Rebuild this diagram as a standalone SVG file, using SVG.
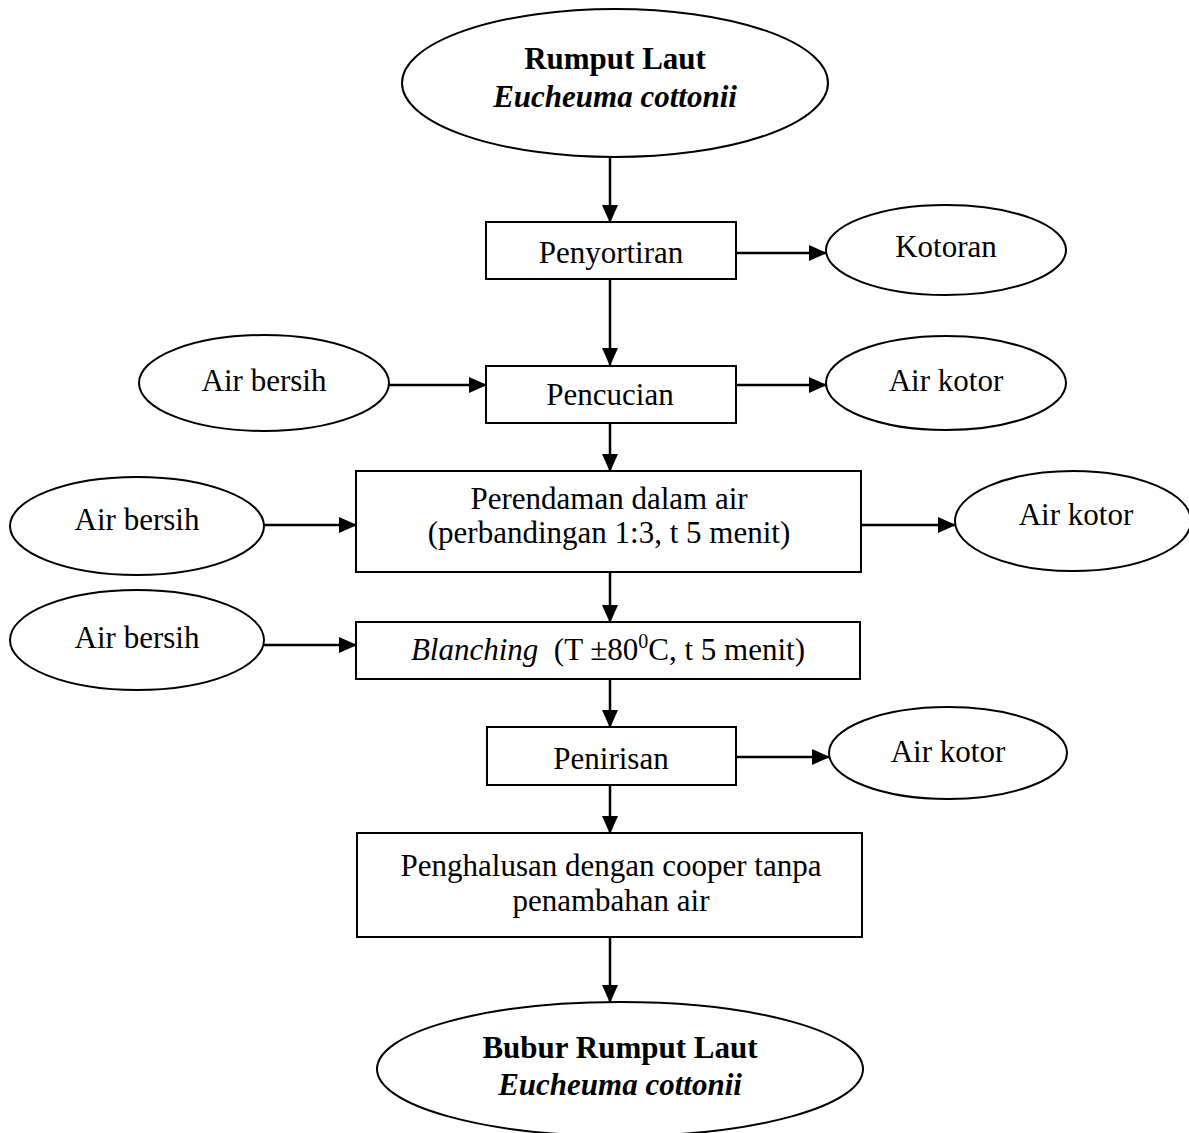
<svg xmlns="http://www.w3.org/2000/svg" width="1189" height="1133" viewBox="0 0 1189 1133">
<style>
.n{fill:#fff;stroke:#000;stroke-width:2}
.t{font-family:"Liberation Serif","Times New Roman",serif;font-size:31px;fill:#000;text-anchor:middle}
.b{font-weight:bold}
.i{font-style:italic}
.c{stroke:#000;stroke-width:2.5;fill:none;marker-end:url(#ah)}
</style>
<defs>
<marker id="ah" markerUnits="userSpaceOnUse" markerWidth="18" markerHeight="16" refX="17" refY="8" orient="auto">
<path d="M0,0 L18,8 L0,16 Z" fill="#000"/>
</marker>
</defs>
<rect width="1189" height="1133" fill="#fff"/>
<g id="connectors">
<line class="c" x1="610" y1="157" x2="610" y2="222"/>
<line class="c" x1="736" y1="253" x2="826" y2="253"/>
<line class="c" x1="610" y1="279" x2="610" y2="365"/>
<line class="c" x1="389" y1="385" x2="486" y2="385"/>
<line class="c" x1="736" y1="385" x2="826" y2="385"/>
<line class="c" x1="610" y1="423" x2="610" y2="471"/>
<line class="c" x1="264" y1="525" x2="356" y2="525"/>
<line class="c" x1="861" y1="525" x2="955" y2="525"/>
<line class="c" x1="610" y1="572" x2="610" y2="622"/>
<line class="c" x1="264" y1="645" x2="356" y2="645"/>
<line class="c" x1="610" y1="679" x2="610" y2="727"/>
<line class="c" x1="736" y1="757" x2="829" y2="757"/>
<line class="c" x1="610" y1="785" x2="610" y2="833"/>
<line class="c" x1="610" y1="937" x2="610" y2="1002"/>
</g>
<g id="rumput-laut">
<ellipse class="n" cx="615" cy="83" rx="213" ry="74"/>
<text class="t b" x="615" y="69">Rumput Laut</text>
<text class="t b i" x="615" y="107">Eucheuma cottonii</text>
</g>
<g id="penyortiran">
<rect class="n" x="486" y="222" width="250" height="57"/>
<text class="t" x="611" y="263">Penyortiran</text>
</g>
<g id="kotoran">
<ellipse class="n" cx="946" cy="250" rx="120" ry="45"/>
<text class="t" x="946" y="257">Kotoran</text>
</g>
<g id="air-bersih-1">
<ellipse class="n" cx="264" cy="383" rx="125" ry="48"/>
<text class="t" x="264" y="391">Air bersih</text>
</g>
<g id="pencucian">
<rect class="n" x="486" y="366" width="250" height="57"/>
<text class="t" x="610" y="405">Pencucian</text>
</g>
<g id="air-kotor-1">
<ellipse class="n" cx="946" cy="383" rx="120" ry="47"/>
<text class="t" x="946" y="391">Air kotor</text>
</g>
<g id="air-bersih-2">
<ellipse class="n" cx="137" cy="526" rx="127" ry="49"/>
<text class="t" x="137" y="530">Air bersih</text>
</g>
<g id="perendaman">
<rect class="n" x="356" y="471" width="505" height="101"/>
<text class="t" x="609" y="509">Perendaman dalam air</text>
<text class="t" x="609" y="543">(perbandingan 1:3, t 5 menit)</text>
</g>
<g id="air-kotor-2">
<ellipse class="n" cx="1073" cy="521" rx="118" ry="50"/>
<text class="t" x="1076" y="525">Air kotor</text>
</g>
<g id="air-bersih-3">
<ellipse class="n" cx="137" cy="640" rx="127" ry="50"/>
<text class="t" x="137" y="648">Air bersih</text>
</g>
<g id="blanching">
<rect class="n" x="356" y="622" width="504" height="57"/>
<text class="t" x="608" y="660" xml:space="preserve"><tspan class="i">Blanching</tspan>  (T ±80<tspan font-size="20" dy="-12">0</tspan><tspan dy="12">C, t 5 menit)</tspan></text>
</g>
<g id="penirisan">
<rect class="n" x="487" y="727" width="249" height="58"/>
<text class="t" x="611" y="769">Penirisan</text>
</g>
<g id="air-kotor-3">
<ellipse class="n" cx="948" cy="753" rx="119" ry="46"/>
<text class="t" x="948" y="762">Air kotor</text>
</g>
<g id="penghalusan">
<rect class="n" x="357" y="833" width="505" height="104"/>
<text class="t" x="611" y="876">Penghalusan dengan cooper tanpa</text>
<text class="t" x="611" y="911">penambahan air</text>
</g>
<g id="bubur-rumput-laut">
<ellipse class="n" cx="620" cy="1069" rx="243" ry="67"/>
<text class="t b" x="620" y="1058">Bubur Rumput Laut</text>
<text class="t b i" x="620" y="1095">Eucheuma cottonii</text>
</g>
</svg>
